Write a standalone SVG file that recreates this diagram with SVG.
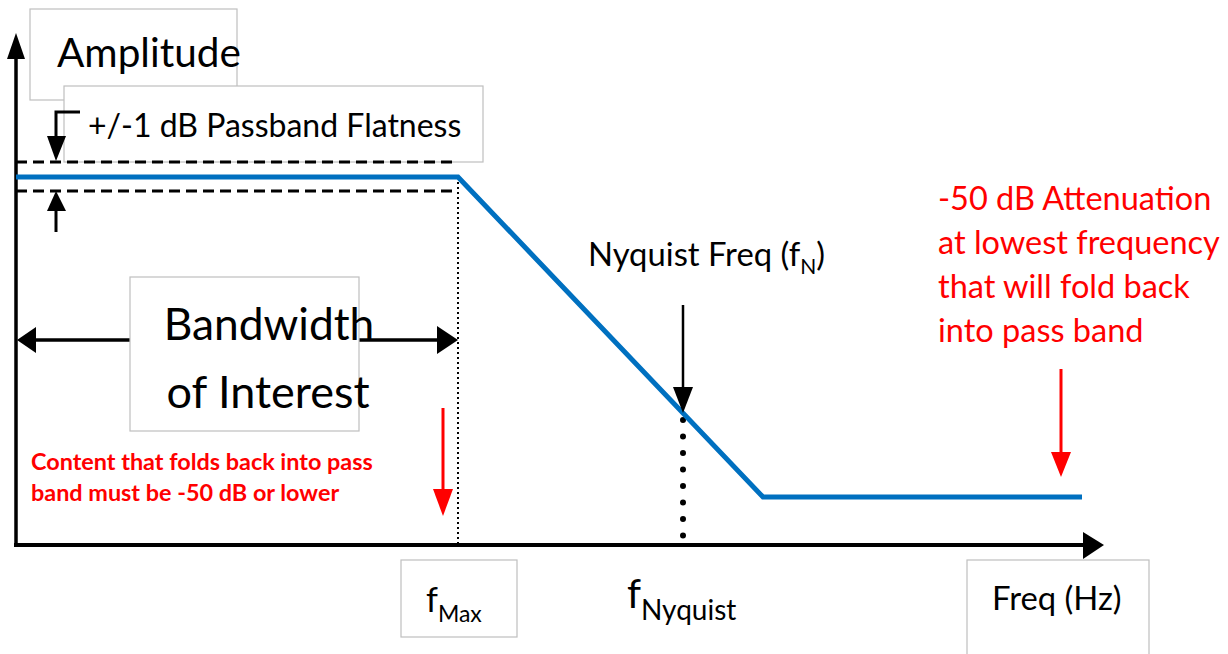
<svg xmlns="http://www.w3.org/2000/svg" width="1228" height="654" viewBox="0 0 1228 654">
<style>
.box{fill:#fff;stroke:#BFBFBF;stroke-width:1.2}
.t{font-family:Lato,"Open Sans",sans-serif;fill:#000}
.r{font-family:Lato,"Open Sans",sans-serif;fill:#FF0000}
.blk{stroke:#000;fill:none}
.head{fill:#000}
.rhead{fill:#FF0000}
</style>
<rect width="1228" height="654" fill="#fff"/>

<g id="axes">
  <line class="blk" x1="16" y1="545" x2="16" y2="55" stroke-width="3.5"/>
  <polygon class="head" points="16,33 7,59 25,59"/>
  <line class="blk" x1="14" y1="545" x2="1086" y2="545" stroke-width="4"/>
  <polygon class="head" points="1104,545 1083,532 1083,559"/>
</g>

<g id="amplitude-label">
  <rect class="box" x="30" y="9" width="207" height="91"/>
  <text class="t" x="57" y="67" font-size="40.5">Amplitude</text>
</g>

<g id="flatness-label">
  <rect class="box" x="64" y="86" width="419" height="76"/>
  <text class="t" x="88" y="137" font-size="32">+/-1 dB Passband Flatness</text>
</g>

<g id="bandwidth-label">
  <line class="blk" x1="30" y1="340" x2="130" y2="340" stroke-width="3.5"/>
  <line class="blk" x1="359" y1="340" x2="440" y2="340" stroke-width="3.5"/>
  <polygon class="head" points="17,340 36,327 36,353"/>
  <polygon class="head" points="458,340 437,326 437,354"/>
  <rect class="box" x="130" y="277" width="229" height="154"/>
  <text class="t" x="269" y="340" font-size="44.3" text-anchor="middle">Bandwidth</text>
  <text class="t" x="268" y="408" font-size="45" text-anchor="middle">of Interest</text>
</g>

<g id="connectors">
  <!-- passband flatness dashed limits -->
  <line class="blk" x1="16" y1="162" x2="458" y2="162" stroke-width="3" stroke-dasharray="11 6"/>
  <line class="blk" x1="16" y1="191" x2="458" y2="191" stroke-width="3" stroke-dasharray="11 6"/>
  <!-- flatness arrows -->
  <polyline class="blk" points="80,112 56,112 56,138" stroke-width="3"/>
  <polygon class="head" points="56,161 47,136 66,136"/>
  <line class="blk" x1="56" y1="208" x2="56" y2="232" stroke-width="3"/>
  <polygon class="head" points="56,191 47,211 66,211"/>
  <!-- fmax dotted -->
  <line class="blk" x1="458" y1="177" x2="458" y2="545" stroke-width="2" stroke-dasharray="2 3"/>
  <!-- nyquist dotted -->
  <line class="blk" x1="683" y1="420" x2="683" y2="545" stroke-width="6" stroke-linecap="round" stroke-dasharray="0 16.5"/>
  <!-- response curve -->
  <polyline points="16,177 458,177 763,497 1082,497" fill="none" stroke="#0070C0" stroke-width="5"/>
  <!-- nyquist arrow -->
  <line class="blk" x1="683" y1="305" x2="683" y2="390" stroke-width="2.5"/>
  <polygon class="head" points="683,413 673,387 693,387"/>
  <!-- red arrows -->
  <line x1="443" y1="408" x2="443" y2="492" stroke="#FF0000" stroke-width="3"/>
  <polygon class="rhead" points="443,516 433,489 453,489"/>
  <line x1="1061" y1="369" x2="1061" y2="455" stroke="#FF0000" stroke-width="3"/>
  <polygon class="rhead" points="1061,477 1051,452 1071,452"/>
</g>

<g id="content-note">
  <text class="r" x="31" y="470" font-size="23.4" font-weight="bold">Content that folds back into pass</text>
  <text class="r" x="31" y="501" font-size="23.4" font-weight="bold">band must be -50 dB or lower</text>
</g>

<g id="nyquist-label">
  <text class="t" x="588" y="266" font-size="32.8">Nyquist Freq (f<tspan font-size="21" dy="8">N</tspan><tspan dy="-8">)</tspan></text>
</g>

<g id="attenuation-note">
  <text class="r" x="938" y="210" font-size="32.5">-50 dB Attenuation</text>
  <text class="r" x="938" y="254" font-size="32.5">at lowest frequency</text>
  <text class="r" x="938" y="298" font-size="32.5">that will fold back</text>
  <text class="r" x="938" y="342" font-size="32.5">into pass band</text>
</g>

<g id="fmax-label">
  <rect class="box" x="401" y="560" width="116" height="77"/>
  <text class="t" x="426" y="612" font-size="34">f<tspan font-size="23" dy="10">Max</tspan></text>
</g>

<g id="fnyquist-label">
  <text class="t" x="627" y="608" font-size="40">f<tspan font-size="28" dy="12">Nyquist</tspan></text>
</g>

<g id="freq-label">
  <rect class="box" x="967" y="560" width="182" height="100"/>
  <text class="t" x="992" y="610" font-size="32.8">Freq (Hz)</text>
</g>
</svg>
